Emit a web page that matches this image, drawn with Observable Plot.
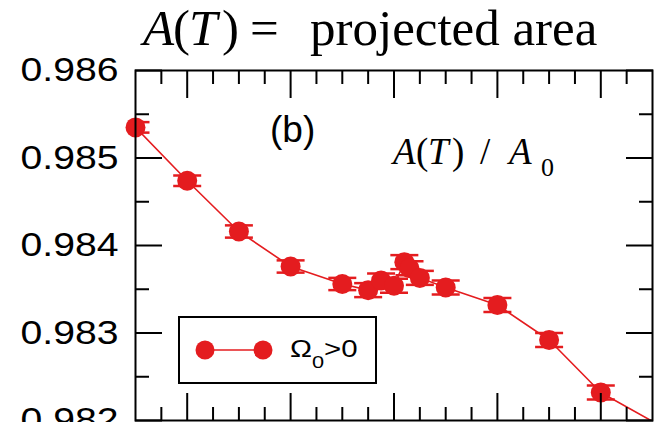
<!DOCTYPE html>
<html>
<head>
<meta charset="utf-8">
<script src="https://cdn.jsdelivr.net/npm/d3@7"></script>
<script src="https://cdn.jsdelivr.net/npm/@observablehq/plot@0.6"></script>
<style>
  html, body { margin: 0; padding: 0; background: #fff; }
  #chart { width: 657px; height: 422px; overflow: hidden; }
</style>
</head>
<body>
<div id="chart"></div>
<script>
// Temperature steps (x) and projected-area ratio A(T)/A0 (y) with error bars
const temps     = [0.5, 1.0, 1.5, 2.0, 2.5, 2.75, 2.875, 3.0, 3.1, 3.15, 3.25, 3.5, 4.0, 4.5, 5.0, 6.0];
const areaRatio = [0.98535, 0.98474, 0.98416, 0.98376, 0.98356, 0.98349, 0.98360, 0.98354,
                   0.98381, 0.98374, 0.98363, 0.98352, 0.98332, 0.98292, 0.98232, 0.98166];
const areaErr   = [0.00006, 0.00006, 0.00007, 0.00007, 0.00007, 0.00008, 0.00008, 0.00008,
                   0.00008, 0.00008, 0.00008, 0.00008, 0.00008, 0.00008, 0.00008, 0.00008];

// Axis ticks
const yMajor = [0.982, 0.983, 0.984, 0.985, 0.986];
const yMinor = [0.9825, 0.9835, 0.9845, 0.9855];
const xMajor = [1, 2, 3, 4, 5];
const xMinor = [0.75, 1.25, 1.5, 1.75, 2.25, 2.5, 2.75, 3.25, 3.5, 3.75, 4.25, 4.5, 4.75, 5.25];

const seriesName = "Ω";
const seriesSub = "0";
const seriesCond = ">0";
const panelTag = "(b)";

const red = "#e41c1f";
const points = temps.map((t, i) => ({t, a: areaRatio[i], e: areaErr[i]}));

// horizontal error-bar cap drawn as a dot symbol
const capSymbol = {
  draw(ctx, size) {
    const w = Math.sqrt(size / Math.PI);
    ctx.moveTo(-w, 0);
    ctx.lineTo(w, 0);
  }
};

const tickStyle = {stroke: "black", strokeWidth: 2, fill: "none", label: null};

const chart = Plot.plot({
  width: 657,
  height: 422,
  marginLeft: 135,
  marginRight: 5,
  marginTop: 70,
  marginBottom: 2,
  style: {fontFamily: "'Liberation Sans', Arial, sans-serif", fontSize: "33px", background: "#fff", color: "black"},
  x: {domain: [0.5, 5.5], axis: null},
  y: {domain: [0.982, 0.986], axis: null},
  marks: [
    Plot.ruleX(points, {x: "t", y1: d => d.a - d.e, y2: d => d.a + d.e, stroke: red, strokeWidth: 2, clip: true}),
    Plot.dot(points, {x: "t", y: d => d.a + d.e, symbol: capSymbol, r: 14, stroke: red, strokeWidth: 2.5, clip: true}),
    Plot.dot(points, {x: "t", y: d => d.a - d.e, symbol: capSymbol, r: 14, stroke: red, strokeWidth: 2.5, clip: true}),
    Plot.line(points, {x: "t", y: "a", stroke: red, strokeWidth: 1.6, clip: true}),
    Plot.dot(points, {x: "t", y: "a", r: 10, fill: red, stroke: "none"}),
    // inward ticks on all four sides
    Plot.axisY(yMajor, {anchor: "left", tickSize: -27, ...tickStyle}),
    Plot.axisY(yMinor, {anchor: "left", tickSize: -14, ...tickStyle}),
    Plot.axisY(yMajor, {anchor: "right", tickSize: -27, ...tickStyle}),
    Plot.axisY(yMinor, {anchor: "right", tickSize: -14, ...tickStyle}),
    Plot.axisX(xMajor, {anchor: "bottom", tickSize: -27, ...tickStyle}),
    Plot.axisX(xMinor, {anchor: "bottom", tickSize: -13, ...tickStyle}),
    Plot.axisX(xMajor, {anchor: "top", tickSize: -27, ...tickStyle}),
    Plot.axisX(xMinor, {anchor: "top", tickSize: -13, ...tickStyle}),
    // y tick labels
    Plot.axisY(yMajor, {anchor: "left", tickSize: 0, tickPadding: 17, tickFormat: d3.format(".3f"), fill: "black", label: null}),
    Plot.frame({stroke: "black", strokeWidth: 2})
  ]
});

document.getElementById("chart").appendChild(chart);

const svg = d3.select(chart);
svg.selectAll('g[aria-label="y-axis tick label"] text')
  .attr("textLength", 98)
  .attr("lengthAdjust", "spacingAndGlyphs");

// Title: A(T) = projected area
const serif = "'Liberation Serif', 'Times New Roman', serif";
const title = svg.append("g").attr("font-family", serif).attr("font-size", 51)
  .attr("fill", "black").attr("text-anchor", "start");
[["A", 143, true], ["(", 173, false], ["T", 189, true], [")", 222, false], ["=", 250, false], ["projected area", 310, false]]
  .forEach(([s, x, it]) => title.append("text").attr("x", x).attr("y", 45)
    .attr("font-style", it ? "italic" : "normal").text(s));

// In-panel annotation: A(T) / A0
const note = svg.append("g").attr("font-family", serif).attr("font-size", 37)
  .attr("fill", "black").attr("text-anchor", "start");
[["A", 393, true], ["(", 416, false], ["T", 428, true], [")", 452, false], ["/", 480, false], ["A", 509, true]]
  .forEach(([s, x, it]) => note.append("text").attr("x", x).attr("y", 164)
    .attr("font-style", it ? "italic" : "normal").text(s));
note.append("text").attr("x", 541).attr("y", 176).attr("font-size", 26).text("0");

// Panel tag
svg.append("text").attr("x", 270).attr("y", 142).attr("text-anchor", "start")
  .attr("font-family", "'Liberation Sans', Arial, sans-serif").attr("font-size", 37).text(panelTag);

// Legend
const lg = svg.append("g");
lg.append("rect").attr("x", 179).attr("y", 317).attr("width", 197).attr("height", 66)
  .attr("fill", "white").attr("stroke", "black").attr("stroke-width", 2);
lg.append("line").attr("x1", 205).attr("x2", 263).attr("y1", 350).attr("y2", 350)
  .attr("stroke", red).attr("stroke-width", 1.6);
lg.selectAll("circle").data([205, 263]).join("circle")
  .attr("cx", d => d).attr("cy", 350).attr("r", 9.5).attr("fill", red);
const lt = lg.append("text").attr("transform", "translate(290,357) scale(1.28,1)")
  .attr("text-anchor", "start")
  .attr("font-family", "'Liberation Sans', Arial, sans-serif").attr("font-size", 23).attr("fill", "black");
lt.append("tspan").text(seriesName);
lt.append("tspan").attr("dy", 11).attr("font-size", 17).text(seriesSub);
lt.append("tspan").attr("dy", -11).attr("font-size", 23).text(seriesCond);
</script>
</body>
</html>
